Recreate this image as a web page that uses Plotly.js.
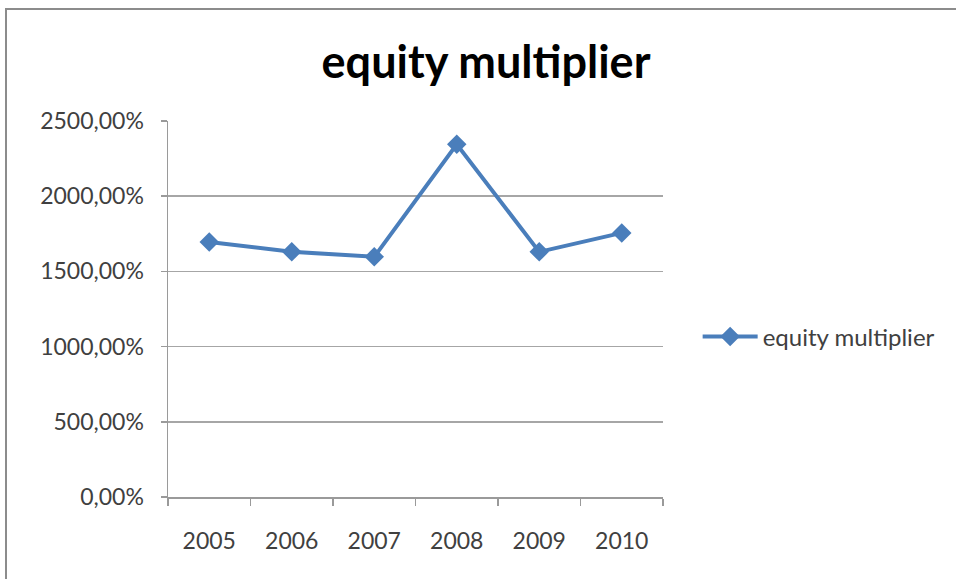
<!DOCTYPE html>
<html>
<head>
<meta charset="utf-8">
<script src="https://cdn.plot.ly/plotly-3.0.1.min.js"></script>
<style>
html,body{margin:0;padding:0;background:#fff;}
#wrap{position:relative;width:956px;height:579px;overflow:hidden;}
#frame{position:absolute;left:5px;top:8px;width:1000px;height:700px;border-left:2px solid #8c8c8c;border-top:2px solid #8c8c8c;pointer-events:none;}
#chart{position:absolute;left:0;top:0;width:956px;height:579px;}
</style>
</head>
<body>
<div id="wrap">
<div id="chart"></div>
<div id="frame"></div>
</div>
<script>
const years = ["2005", "2006", "2007", "2008", "2009", "2010"];
const equityMultiplier = [16.96, 16.30, 15.97, 23.45, 16.30, 17.56];
const seriesName = "equity multiplier";
const chartTitle = "equity multiplier";

const trace = {
  type: "scatter",
  mode: "lines+markers",
  x: years,
  y: equityMultiplier,
  name: seriesName,
  line: {color: "#4a7ebb", width: 4},
  marker: {symbol: "diamond", size: 15, color: "#4a7ebb"},
  showlegend: true
};

const layout = {
  width: 956,
  height: 579,
  margin: {l: 168, r: 293, t: 121, b: 82},
  paper_bgcolor: "#ffffff",
  plot_bgcolor: "#ffffff",
  separators: ",.",
  font: {family: "Lato, 'Open Sans', sans-serif", size: 22, color: "#404040"},
  title: {
    text: "<b>" + chartTitle + "</b>",
    font: {family: "Lato, 'Open Sans', sans-serif", size: 45, color: "#000000"},
    xref: "container", yref: "container",
    x: 486 / 956, xanchor: "center",
    y: 1 - 62 / 579, yanchor: "middle"
  },
  xaxis: {
    type: "category",
    range: [-0.5, 5.5],
    showgrid: false,
    showline: true,
    linecolor: "#9a9a9a",
    linewidth: 1.5,
    ticks: "outside",
    tickson: "boundaries",
    ticklen: 7,
    tickcolor: "#9a9a9a",
    tickwidth: 1.5,
    ticklabelstandoff: 23,
    tickfont: {size: 23, color: "#404040"},
    fixedrange: true
  },
  yaxis: {
    range: [0, 25],
    dtick: 5,
    tick0: 0,
    tickformat: ".2%",
    showgrid: true,
    gridcolor: "#a6a6a6",
    gridwidth: 1.5,
    showline: true,
    linecolor: "#9a9a9a",
    linewidth: 1.5,
    ticks: "outside",
    ticklen: 6,
    tickcolor: "#9a9a9a",
    tickwidth: 1.5,
    ticklabelstandoff: 12,
    zeroline: false,
    tickfont: {size: 23, color: "#404040"},
    fixedrange: true
  },
  legend: {
    x: 1.07, xanchor: "left",
    y: 0.426, yanchor: "middle",
    font: {size: 24, color: "#404040"},
    itemwidth: 55,
    bgcolor: "rgba(0,0,0,0)"
  }
};

Plotly.newPlot("chart", [trace], layout, {displayModeBar: false, staticPlot: true});
</script>
</body>
</html>
